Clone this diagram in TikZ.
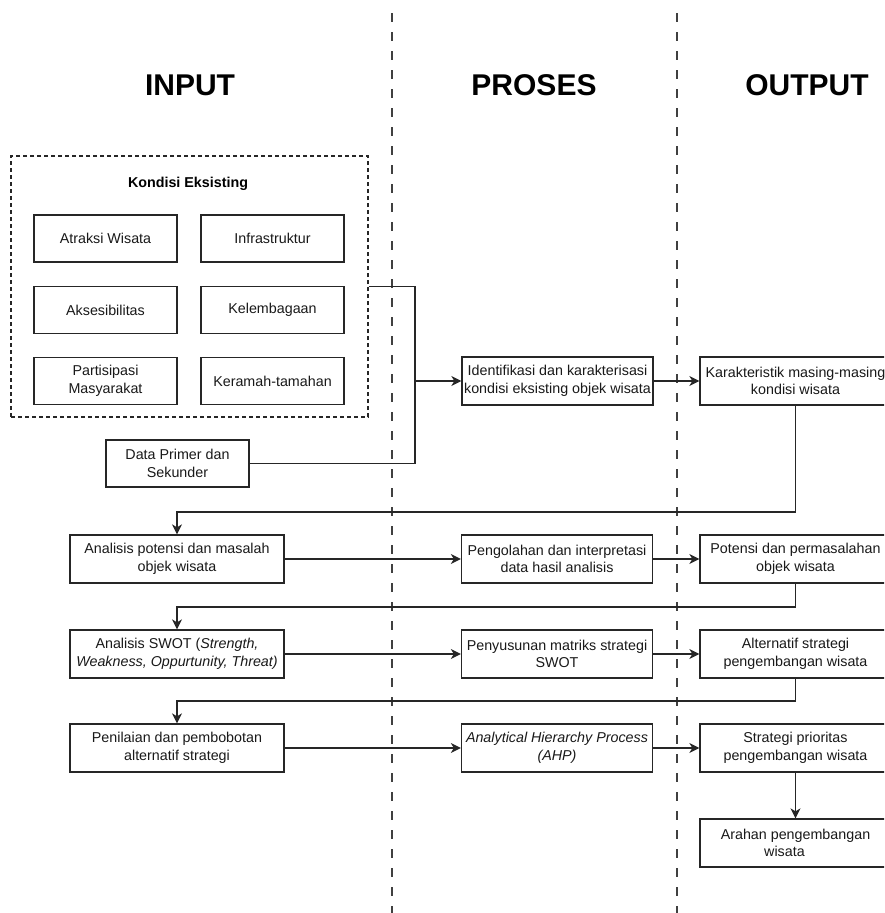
\documentclass[tikz,border=0pt]{standalone}
\usepackage{fontspec}
\setmainfont{Liberation Sans}
\usetikzlibrary{arrows.meta}
\tikzset{
  box/.style={draw=black!85, line width=1.3pt, fill=white, align=center, inner sep=1pt,
    font=\fontsize{14.3}{17.7}\selectfont, text=black!90},
  smallbox/.style={box, minimum width=143pt, minimum height=47pt},
  midbox/.style={box, minimum width=191pt, minimum height=48pt},
  leftbox/.style={box, minimum width=214pt, minimum height=48pt},
  conn/.style={draw=black!85, line width=1.3pt},
  arr/.style={conn, -{Stealth[length=10pt, width=10pt, inset=3pt]}},
  lane/.style={draw=black!75, line width=1.3pt, dash pattern=on 9pt off 10pt},
  header/.style={font=\fontsize{30}{34}\selectfont\bfseries, text=black},
}
\begin{document}
\begin{tikzpicture}[x=1pt, y=-1pt]
\clip (0,0) rectangle (884,913);
\fill[white] (0,0) rectangle (884,913);

% lane separators
\coordinate (l1t) at (392,13);
\coordinate (l1b) at (392,913);
\coordinate (l2t) at (677,13);
\coordinate (l2b) at (677,913);
\draw[lane] (l1t) -- (l1b);
\draw[lane] (l2t) -- (l2b);

% headers
\node[header] (hin) at (190,85) {INPUT};
\node[header] (hpr) at (534,85) {PROSES};
\node[header] (hout) at (807,85) {OUTPUT};

% existing conditions group
\node[draw=black!85, line width=1.3pt, dash pattern=on 4pt off 3pt,
      minimum width=357pt, minimum height=261pt, inner sep=0pt] (kondisi) at (189.5,286.5) {};
\node[font=\fontsize{14.3}{17.7}\selectfont\bfseries, text=black] (ktitle) at (188,184) {Kondisi Eksisting};

\node[smallbox] (atr) at (105.5,238.5) {Atraksi Wisata};
\node[smallbox] (inf) at (272.5,238.5) {Infrastruktur};
\node[smallbox] (aks) at (105.5,310) {Aksesibilitas};
\node[smallbox] (kel) at (272.5,310) {Kelembagaan};
\node[smallbox] (par) at (105.5,381) {Partisipasi\\Masyarakat};
\node[smallbox] (ker) at (272.5,381) {Keramah-tamahan};

\node[smallbox] (data) at (177.5,463.5) {Data Primer dan\\Sekunder};

% row 1
\node[midbox] (ident) at (557.5,381) {Identifikasi dan karakterisasi\\kondisi eksisting objek wisata};
\node[midbox] (kar) at (795.5,381) {Karakteristik masing-masing\\kondisi wisata};

% row 2
\node[leftbox] (anp) at (177,559) {Analisis potensi dan masalah\\objek wisata};
\node[midbox] (peng) at (557,559) {Pengolahan dan interpretasi\\data hasil analisis};
\node[midbox] (pot) at (795.5,559) {Potensi dan permasalahan\\objek wisata};

% row 3
\node[leftbox] (swot) at (177,654) {Analisis SWOT (\textit{Strength,}\\\textit{Weakness, Oppurtunity, Threat)}};
\node[midbox] (peny) at (557,654) {Penyusunan matriks strategi\\SWOT};
\node[midbox] (alt) at (795.5,654) {Alternatif strategi\\pengembangan wisata};

% row 4
\node[leftbox] (pen) at (177,748) {Penilaian dan pembobotan\\alternatif strategi};
\node[midbox] (ahp) at (557,748) {\textit{Analytical Hierarchy Process}\\\textit{(AHP)}};
\node[midbox] (strat) at (795.5,748) {Strategi prioritas\\pengembangan wisata};

\node[midbox] (arah) at (795.5,843) {Arahan pengembangan\\wisata\hspace*{22pt}};

% connectors
\coordinate (j) at (415,381);
\draw[conn] (kondisi.east) -| (j) |- (data.east);
\draw[arr] (j) -- (ident.west);
\draw[arr] (ident.east) -- (kar.west);

\coordinate (r1) at (400,512);
\draw[arr] (kar.south) |- (r1) -| (anp.north);
\draw[arr] (anp.east) -- (peng.west);
\draw[arr] (peng.east) -- (pot.west);

\coordinate (r2) at (400,607);
\draw[arr] (pot.south) |- (r2) -| (swot.north);
\draw[arr] (swot.east) -- (peny.west);
\draw[arr] (peny.east) -- (alt.west);

\coordinate (r3) at (400,701);
\draw[arr] (alt.south) |- (r3) -| (pen.north);
\draw[arr] (pen.east) -- (ahp.west);
\draw[arr] (ahp.east) -- (strat.west);

\draw[arr] (strat.south) -- (arah.north);
\end{tikzpicture}
\end{document}
